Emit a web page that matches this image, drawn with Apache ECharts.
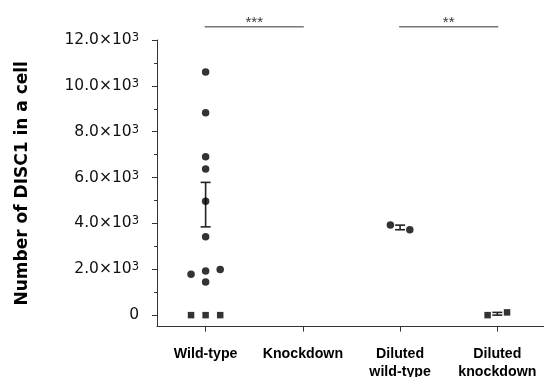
<!DOCTYPE html>
<html>
<head>
<meta charset="utf-8">
<script src="https://cdn.jsdelivr.net/npm/echarts@6/dist/echarts.min.js"></script>
<style>html,body{margin:0;padding:0;background:#fff}#c{width:544px;height:377px}</style>
</head>
<body>
<div id="c"></div>
<script>
var categories = ['Wild-type', 'Knockdown', 'Diluted\nwild-type', 'Diluted\nknockdown'];
var yMajorTicks = [0, 2000, 4000, 6000, 8000, 10000, 12000];
var yMinorTicks = [1000, 3000, 5000, 7000, 9000, 11000];
// [category position (with jitter), value]
var wildType = [[0,10600],[0,8830],[0,6910],[0,6370],[0,4970],[0,3420],[0,1930],[0,1450],[-0.15,1780],[0.15,1990]];
var knockdown = [[-0.15,0],[0,0],[0.15,0]];
var dilutedWildType = [[1.9,3930],[2.1,3720]];
var dilutedKnockdown = [[2.9,0],[3.1,120]];
// [category, mean, low, high]
var errorBars = [[0,4825,3850,5790],[2,3825,3725,3925],[3,60,0,120]];
var sigLines = [{from:0,to:1,y:12580,text:'***'},{from:2,to:3,y:12580,text:'**'}];

var chart = echarts.init(document.getElementById('c'));
var font = 'Liberation Sans, Arial, sans-serif';
var wideFont = 'DejaVu Sans, sans-serif';

var series = [
  {type:'scatter', data:wildType, symbol:'circle', symbolSize:7.5, itemStyle:{color:'#000'}, z:5},
  {type:'scatter', data:knockdown, symbol:'rect', symbolSize:6.5, itemStyle:{color:'#000'}, z:5},
  {type:'scatter', data:dilutedWildType, symbol:'circle', symbolSize:7.5, itemStyle:{color:'#000'}, z:5},
  {type:'scatter', data:dilutedKnockdown, symbol:'rect', symbolSize:6.5, itemStyle:{color:'#000'}, z:5},
  {type:'custom', data:errorBars, z:4,
    renderItem:function(params, api){
      var x = api.value(0);
      var lo = api.coord([x, api.value(2)]);
      var hi = api.coord([x, api.value(3)]);
      var w = 5;
      var st = {stroke:'#222', lineWidth:1.6};
      return {type:'group', children:[
        {type:'line', shape:{x1:lo[0], y1:lo[1], x2:hi[0], y2:hi[1]}, style:st},
        {type:'line', shape:{x1:lo[0]-w, y1:lo[1], x2:lo[0]+w, y2:lo[1]}, style:st},
        {type:'line', shape:{x1:hi[0]-w, y1:hi[1], x2:hi[0]+w, y2:hi[1]}, style:st}
      ]};
    }}
];
sigLines.forEach(function(s){
  series.push({type:'line', data:[[s.from - 0.01, s.y],[s.to + 0.01, s.y]], symbol:'none', clip:false,
    lineStyle:{color:'#777', width:1.6}, silent:true});
  series.push({type:'scatter', data:[[(s.from+s.to)/2, s.y]], symbolSize:0, clip:false, silent:true,
    label:{show:true, position:'top', distance:0, formatter:s.text, color:'#000', fontSize:15, lineHeight:8, fontFamily:font}});
});

chart.setOption({
  animation:false,
  grid:{left:157, top:40, width:387, height:286.6, containLabel:false, outerBoundsMode:'none'},
  xAxis:{type:'value', min:-0.5, max:3.48,
    axisLine:{show:true, onZero:false, lineStyle:{color:'#333', width:1}},
    splitLine:{show:false},
    axisTick:{show:true, customValues:[0,1,2,3], length:5, inside:false, lineStyle:{color:'#333'}},
    axisLabel:{customValues:[0,1,2,3], margin:18, color:'#000', fontWeight:'bold', fontSize:14.2, lineHeight:18, fontFamily:font,
      formatter:function(v){ return categories[Math.round(v)]; }}
  },
  yAxis:[
    {type:'value', min:-500, max:12000, position:'left',
      name:'Number of DISC1 in a cell', nameLocation:'middle', nameGap:126,
      nameTextStyle:{fontSize:17, fontWeight:'bold', color:'#000', fontFamily:wideFont},
      axisLine:{show:true, onZero:false, lineStyle:{color:'#333', width:1}},
      splitLine:{show:false},
      axisTick:{show:true, customValues:yMajorTicks, length:5, lineStyle:{color:'#333'}},
      axisLabel:{customValues:yMajorTicks, margin:18, color:'#111', fontSize:15.5, lineHeight:19, fontFamily:wideFont,
        formatter:function(v){ return v === 0 ? '{n|0}' : '{n|' + (v/1000).toFixed(1) + '×10}{s|3}'; },
        rich:{
          n:{fontSize:15.5, fontFamily:wideFont, color:'#111', lineHeight:16, verticalAlign:'bottom'},
          s:{fontSize:11.5, fontFamily:wideFont, color:'#111', lineHeight:12, verticalAlign:'top'}
        }}
    },
    {type:'value', min:-500, max:12000, position:'left',
      axisLine:{show:false, onZero:false}, splitLine:{show:false},
      axisTick:{show:true, customValues:yMinorTicks, length:3, lineStyle:{color:'#333'}},
      axisLabel:{show:false}
    }
  ],
  series:series
});
</script>
</body>
</html>
